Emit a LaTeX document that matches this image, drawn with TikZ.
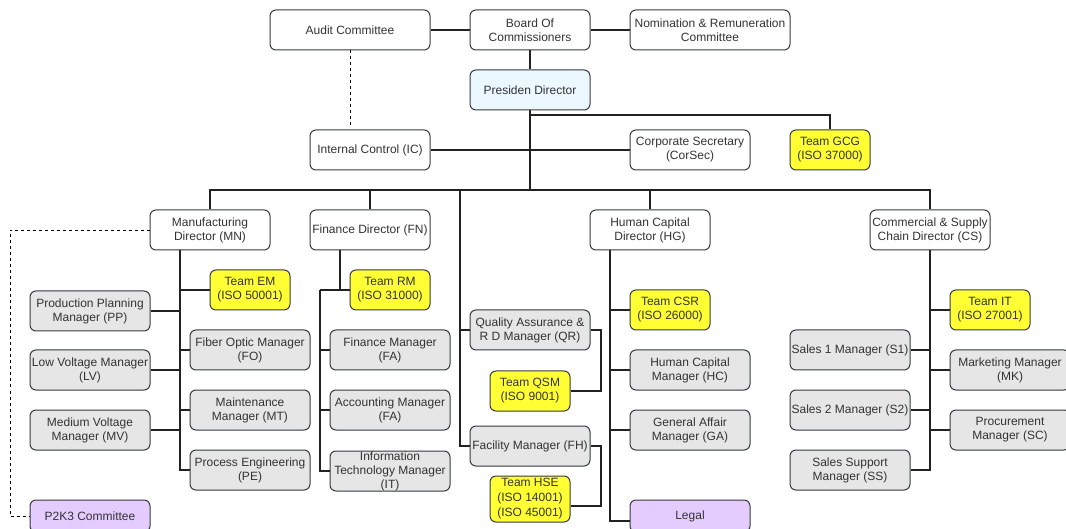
\documentclass[tikz,border=0pt]{standalone}
\usepackage{fontspec}
\setmainfont{Liberation Sans}
\definecolor{boxline}{RGB}{54,57,61}
\definecolor{boxtext}{RGB}{51,51,51}
\definecolor{staffgray}{RGB}{230,230,230}
\definecolor{teamyellow}{RGB}{255,255,51}
\definecolor{presblue}{RGB}{235,248,255}
\definecolor{sidepurple}{RGB}{229,204,255}
\definecolor{linkcol}{RGB}{34,34,34}

\begin{document}
\begin{tikzpicture}[x=1pt, y=-1pt,
	unit/.style = {draw=boxline, fill=white, text=boxtext, rounded corners=6pt, line width=1pt,
		minimum width=120pt, minimum height=40pt, inner xsep=1pt, inner ysep=0pt, align=center,
		font=\fontsize{12}{14}\selectfont},
	staff/.style = {unit, fill=staffgray},
	team/.style = {unit, fill=teamyellow, minimum width=80pt},
	side/.style = {unit, fill=sidepurple, minimum height=32pt},
	wide/.style = {minimum width=160pt},
	link/.style = {draw=linkcol, line width=2pt},
	dotlink/.style = {draw=black, line width=0.8pt, dashed}]
				\useasboundingbox (0,0) rectangle (1066,529);
				\clip (0,0) rectangle (1066,529);
				% top level
				\node[unit, wide] (audit) at (350,30) {Audit Committee};
				\node[unit] (board) at (530,30) {Board Of\\Commissioners};
				\node[unit, wide] (nomrem) at (710,30) {Nomination \& Remuneration\\Committee};
				\node[unit, fill=presblue] (pres) at (530,90) {Presiden Director};
				\node[unit] (ic) at (370,150) {Internal Control (IC)};
				\node[unit] (corsec) at (690,150) {Corporate Secretary\\(CorSec)};
				\node[team] (gcg) at (830,150) {Team GCG\\(ISO 37000)};
				% directors
				\node[unit] (mn) at (210,230) {Manufacturing\\Director (MN)};
				\node[unit] (fn) at (370,230) {Finance Director (FN)};
				\node[unit] (hg) at (650,230) {Human Capital\\Director (HG)};
				\node[unit] (cs) at (930,230) {Commercial \& Supply\\Chain Director (CS)};
				% manufacturing
				\node[team] (em) at (250,290) {Team EM\\(ISO 50001)};
				\node[staff] (pp) at (90,311) {Production Planning\\Manager (PP)};
				\node[staff] (fo) at (250,350) {Fiber Optic Manager\\(FO)};
				\node[staff] (lv) at (90,370) {Low Voltage Manager\\(LV)};
				\node[staff] (mt) at (250,410) {Maintenance\\Manager (MT)};
				\node[staff] (mv) at (90,430) {Medium Voltage\\Manager (MV)};
				\node[staff] (pe) at (250,470) {Process Engineering\\(PE)};
				\node[side] (p2k3) at (90,516) {P2K3 Committee};
				% finance
				\node[team] (rm) at (390,290) {Team RM\\(ISO 31000)};
				\node[staff] (fa) at (390,350) {Finance Manager\\(FA)};
				\node[staff] (acc) at (390,410) {Accounting Manager\\(FA)};
				\node[staff] (itm) at (390,471) {Information\\Technology Manager\\(IT)};
				% middle column
				\node[staff] (qr) at (530,330) {Quality Assurance \&\\R D Manager (QR)};
				\node[team] (qsm) at (530,391) {Team QSM\\(ISO 9001)};
				\node[staff] (fh) at (530,446) {Facility Manager (FH)};
				\node[team, minimum height=46pt, font=\fontsize{12}{15}\selectfont] (hse) at (530,499) {Team HSE\\(ISO 14001)\\(ISO 45001)};
				% human capital
				\node[team] (csr) at (670,310) {Team CSR\\(ISO 26000)};
				\node[staff] (hc) at (690,370) {Human Capital\\Manager (HC)};
				\node[staff] (ga) at (690,430) {General Affair\\Manager (GA)};
				\node[side] (legal) at (690,516) {Legal};
				% commercial
				\node[team] (it) at (990,310) {Team IT\\(ISO 27001)};
				\node[staff] (s1) at (850,350) {Sales 1 Manager (S1)};
				\node[staff] (mk) at (1010,370) {Marketing Manager\\(MK)};
				\node[staff] (s2) at (850,410) {Sales 2 Manager (S2)};
				\node[staff] (sc) at (1010,430) {Procurement\\Manager (SC)};
				\node[staff] (ss) at (850,470) {Sales Support\\Manager (SS)};
				% junctions
				\coordinate (gcgj) at (530,115);
				\coordinate (bus) at (530,190);
				\coordinate (midj) at (460,190);
				\coordinate (icdash) at (350,125);
				\coordinate (mnj) at (180,250);
				\coordinate (fnj) at (340,250);
				\coordinate (fnsp) at (320,290);
				\coordinate (hgj) at (610,250);
				\coordinate (p2k3j) at (10,230);
				% connectors
				\draw[link] (audit) -- (board) -- (nomrem);
				\draw[link] (board) -- (pres) -- (bus);
				\draw[link] (gcgj) -| (gcg);
				\draw[link] (ic) -- (corsec);
				\draw[dotlink] (audit) -- (icdash);
				\draw[link] (bus) -| (mn);
				\draw[link] (bus) -| (fn);
				\draw[link] (bus) -| (hg);
				\draw[link] (bus) -| (cs);
				\draw[link] (midj) |- (qr);
				\draw[link] (midj) |- (fh);
				\draw[link] (mnj) |- (em);
				\draw[link] (mnj) |- (pp);
				\draw[link] (mnj) |- (fo);
				\draw[link] (mnj) |- (lv);
				\draw[link] (mnj) |- (mt);
				\draw[link] (mnj) |- (mv);
				\draw[link] (mnj) |- (pe);
				\draw[dotlink] (mn) -- (p2k3j) |- (p2k3);
				\draw[link] (fnj) -- (fnj |- fnsp);
				\draw[link] (fnsp) -- (rm);
				\draw[link] (fnsp) |- (fa);
				\draw[link] (fnsp) |- (acc);
				\draw[link] (fnsp) |- (itm);
				\draw[link] (qr.east) -- ++(10,0) |- (qsm);
				\draw[link] (fh.east) -- ++(10,0) |- ([yshift=-7pt]hse.east);
				\draw[link] (hgj) |- (csr);
				\draw[link] (hgj) |- (hc);
				\draw[link] (hgj) |- (ga);
				\draw[link] (hgj) |- ([yshift=-5pt]legal.west);
				\draw[link] (cs) |- (it);
				\draw[link] (cs) |- (s1);
				\draw[link] (cs) |- (mk);
				\draw[link] (cs) |- (s2);
				\draw[link] (cs) |- (sc);
				\draw[link] (cs) |- (ss);
			\end{tikzpicture}
\end{document}
